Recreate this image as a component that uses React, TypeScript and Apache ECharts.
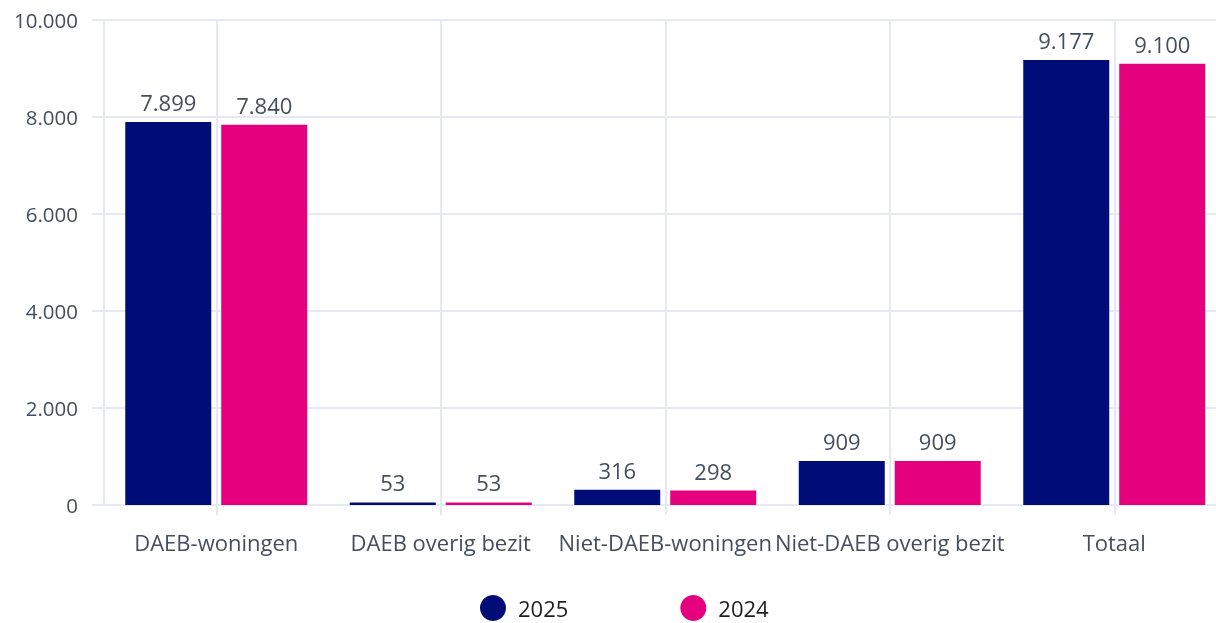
import React, { useEffect, useRef } from "react";
import * as echarts from "echarts";

const categories = ["DAEB-woningen", "DAEB overig bezit", "Niet-DAEB-woningen", "Niet-DAEB overig bezit", "Totaal"];
const values2025 = [7899, 53, 316, 909, 9177];
const values2024 = [7840, 53, 298, 909, 9100];
const seriesNames = ["2025", "2024"];
const yTicks = { min: 0, max: 10000, interval: 2000 };

const GRID = "#e6e9f4";
const TEXT = "#454e5e";
const FONT = "'Open Sans', sans-serif";

const fmt = (v: number) => String(Math.round(v)).replace(/\B(?=(\d{3})+(?!\d))/g, ".");

export default function App() {
  const ref = useRef<HTMLDivElement>(null);
  useEffect(() => {
    if (!ref.current) return;
    const chart = echarts.init(ref.current, undefined, { renderer: "svg" });
    const label = {
      show: true,
      position: "top" as const,
      distance: 9,
      color: TEXT,
      fontSize: 22,
      fontFamily: FONT,
      formatter: (p: any) => fmt(p.value),
    };
    chart.setOption({
      animation: false,
      textStyle: { fontFamily: FONT },
      grid: { left: 104, right: -10.5, top: 20, bottom: 118, containLabel: false, outerBoundsMode: "none" },
      legend: {
        left: 480,
        top: 595,
        padding: 0,
        itemWidth: 26,
        itemHeight: 26,
        itemGap: 112,
        icon: "circle",
        textStyle: { fontSize: 22, lineHeight: 26, color: "#1f1f1f", fontFamily: FONT, padding: [0, 0, 0, 7] },
        data: seriesNames,
      },
      xAxis: {
        type: "category",
        data: categories,
        axisLine: { show: true, lineStyle: { color: GRID, width: 2 } },
        axisTick: { show: true, alignWithLabel: true, length: 10, lineStyle: { color: GRID, width: 2 } },
        splitLine: { show: true, alignWithLabel: true, lineStyle: { color: GRID, width: 2 } },
        axisLabel: { color: TEXT, fontSize: 22, fontFamily: FONT, margin: 26, interval: 0 },
      },
      yAxis: {
        type: "value",
        min: yTicks.min,
        max: yTicks.max,
        interval: yTicks.interval,
        axisLine: { show: true, lineStyle: { color: GRID, width: 2 } },
        axisTick: { show: true, length: 12, lineStyle: { color: GRID, width: 2 } },
        splitLine: { show: true, lineStyle: { color: GRID, width: 2 } },
        axisLabel: { color: TEXT, fontSize: 20.5, fontFamily: FONT, margin: 26, formatter: (v: number) => fmt(v) },
      },
      series: [
        {
          name: seriesNames[0],
          type: "bar",
          data: values2025,
          barWidth: 86,
          barGap: "11.6%",
          itemStyle: { color: "#000c78" },
          label,
        },
        {
          name: seriesNames[1],
          type: "bar",
          data: values2024,
          barWidth: 86,
          barGap: "11.6%",
          itemStyle: { color: "#e5007e" },
          label,
        },
      ],
    });
    return () => chart.dispose();
  }, []);
  return <div ref={ref} style={{ position: "fixed", left: 0, top: 0, width: 1216, height: 623, overflow: "hidden" }} />;
}
